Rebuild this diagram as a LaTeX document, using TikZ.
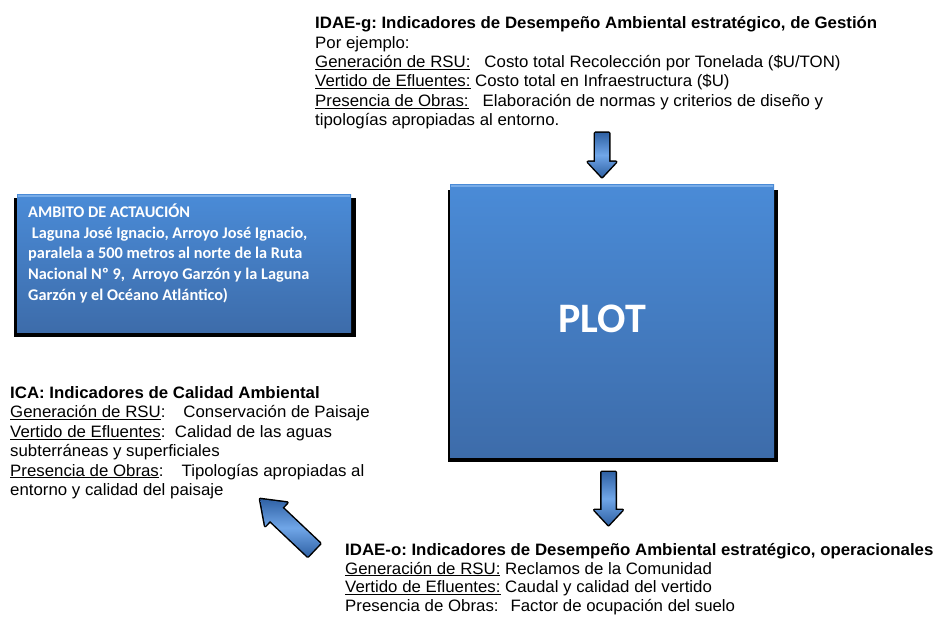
\documentclass[tikz,border=0pt]{standalone}
\usepackage{fontspec}
\setmainfont{Liberation Sans}[FakeStretch=1.02]
\newfontfamily\boxfont{Carlito}
\frenchspacing
\definecolor{boxtop}{RGB}{74,139,215}
\definecolor{boxbot}{RGB}{61,108,170}
\definecolor{boxhi}{RGB}{120,172,232}
\definecolor{arrmid}{RGB}{112,166,232}
\definecolor{arredge}{RGB}{48,98,165}
\begin{document}
\frenchspacing
\begin{tikzpicture}[x=1pt,y=-1pt,
  bluebox/.style={rectangle, inner sep=0pt, top color=boxtop, bottom color=boxbot},
  infotext/.style={anchor=north west, inner sep=0pt, align=left, font=\fontsize{16.5}{19.4}\selectfont},
  ambtext/.style={anchor=north west, inner sep=0pt, align=left, text=white, font=\boxfont\bfseries\fontsize{16.3}{20.7}\selectfont},
  plottext/.style={inner sep=0pt, text=white, font=\boxfont\bfseries\fontsize{42}{42}\selectfont},
  pics/blkarrow/.style n args={4}{code={
    \draw[black, line width=3pt, line join=round] (0,-#2) -- ({#1-#4},-#2) -- ({#1-#4},-#3) -- (#1,0) -- ({#1-#4},#3) -- ({#1-#4},#2) -- (0,#2) -- cycle;
    \shade[top color=arredge, bottom color=arredge, middle color=arrmid] (0,-#2) -- ({#1-#4},-#2) -- ({#1-#4},-#3) -- (#1,0) -- ({#1-#4},#3) -- ({#1-#4},#2) -- (0,#2) -- cycle;
  }}
]
\useasboundingbox (0,0) rectangle (941,617);
\fill[white] (0,0) rectangle (941,617);

% top text block
\node[infotext] (idaeg) at (315,16.5) {%
\textbf{IDAE-g: Indicadores de Desempeño Ambiental  estratégico, de Gestión}\\
Por ejemplo:\\
\underline{Generación de RSU:}\hspace{14pt}Costo total Recolección por Tonelada (\$U/TON)\\
\underline{Vertido de Efluentes:} Costo total en Infraestructura (\$U)\\
\underline{Presencia de Obras:}\hspace{14pt}Elaboración de normas y criterios de diseño y\\
tipologías apropiadas al entorno.};

% AMBITO box
\fill[black] (14,198) rectangle (356,337);
\node[bluebox, minimum width=334, minimum height=137] (ambito) at (184,263.5) {};
\draw[boxhi, line width=1.2pt] (18,196) -- (350,196);
\node[ambtext] (ambtxt) at (28,203.5) {%
AMBITO DE ACTAUCIÓN\\
\ Laguna José Ignacio, Arroyo José Ignacio,\\
paralela a 500 metros al norte de la Ruta\\
Nacional Nº 9,\ \ Arroyo Garzón y la Laguna\\
Garzón y el Océano Atlántico)};

% PLOT box
\fill[black] (448,190) rectangle (778,462);
\node[bluebox, minimum width=324, minimum height=272] (plot) at (612,321) {};
\draw[boxhi, line width=1.5pt] (451,186) -- (773,186);
\node[plottext] (plotlabel) at (602,318.5) {PLOT};

% ICA text block
\node[infotext] (ica) at (10,386.3) {%
\textbf{ICA: Indicadores de Calidad Ambiental}\\
\underline{Generación de RSU}:\hspace{18pt}Conservación de Paisaje\\
\underline{Vertido de Efluentes}:\ \ Calidad de las aguas\\
subterráneas y superficiales\\
\underline{Presencia de Obras}:\hspace{18pt}Tipologías apropiadas al\\
entorno y calidad del paisaje};

% IDAE-o text block
\node[infotext, font=\fontsize{16.5}{18.5}\selectfont] (idaeo) at (345,543.3) {%
\textbf{IDAE-o: Indicadores de Desempeño Ambiental  estratégico, operacionales}\\
\underline{Generación de RSU:} Reclamos de la Comunidad\\
\underline{Vertido de Efluentes:} Caudal y calidad del vertido\\
Presencia de Obras:\hspace{12pt}Factor de ocupación del suelo};

% block arrows
\pic[rotate=-90] (arrtop) at (602,133) {blkarrow={44}{7}{14}{15}};
\pic[rotate=-90] (arrbot) at (608.5,472) {blkarrow={53}{7}{14}{15}};
\pic[rotate=136.6] (arrdiag) at (314,550) {blkarrow={74}{9}{16}{22}};
\end{tikzpicture}
\end{document}
